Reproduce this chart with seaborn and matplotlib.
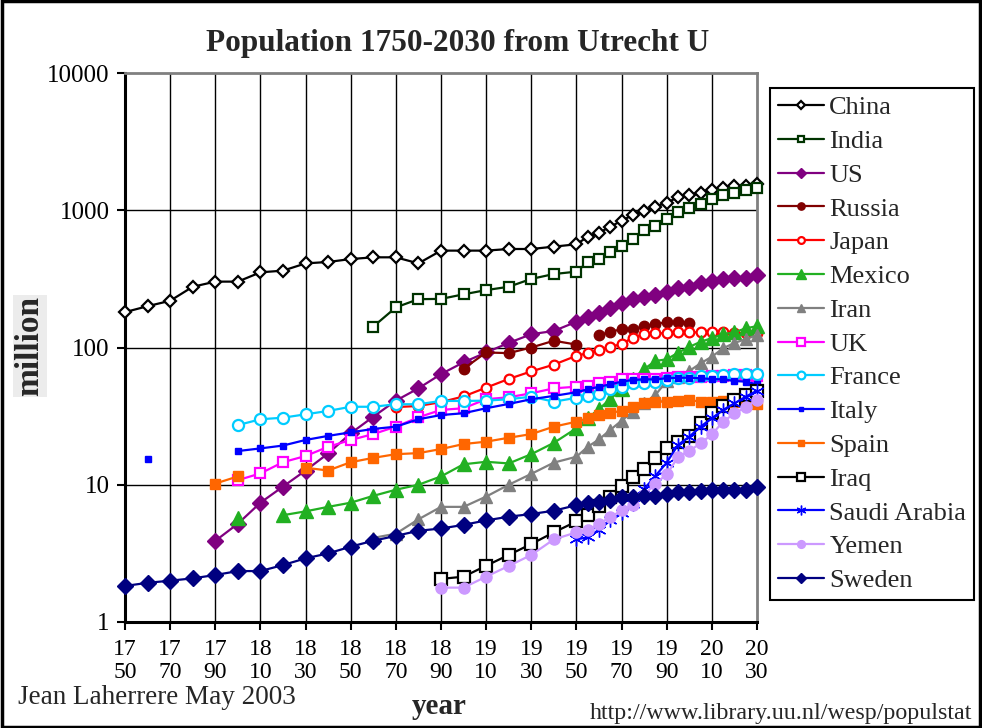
import matplotlib
matplotlib.use("Agg")
import matplotlib.pyplot as plt
import seaborn as sns
from matplotlib.patches import Rectangle

# year grid shared by all series (10-year steps, then 5-year steps)
years = [1750, 1760, 1770, 1780, 1790, 1800, 1810, 1820, 1830, 1840, 1850,
         1860, 1870, 1880, 1890, 1900, 1910, 1920, 1930, 1940, 1950,
         1955, 1960, 1965, 1970, 1975, 1980, 1985, 1990, 1995, 2000,
         2005, 2010, 2015, 2020, 2025, 2030]
N = None

# population in million
china = [181, 200, 219, 277, 302, 302, 353, 363, 410, 420, 441,
         454, 454, 410, 508, 508, 508, 522, 522, 543, 565,
         641, 686, 758, 839, 923, 993, 1062, 1135, 1243, 1290,
         1342, 1405, 1460, 1503, 1503, 1545]
india = [N, N, N, N, N, N, N, N, N, N, N,
         142, 196, 225, 226, 244, 262, 277, 316, 343, 357,
         418, 440, 494, 550, 617, 718, 772, 860, 967, 1044,
         1111, 1209, 1291, 1328, 1405, 1460]
us = [N, N, N, N, 3.9, 5.2, 7.4, 9.7, 12.7, 16.9, 23.7,
      31.3, 41, 50.4, 64, 78, 92, 108, 125, 132, 154,
      168, 179, 193, 210, 224, 234, 241, 252, 270, 277,
      297, 305, 314, 323, 323, 338]
russia = [N, N, N, N, N, N, N, N, N, N, N,
          N, N, N, N, 70, 92, 91, 100, 112, 105,
          N, 123, 130, 136, 136, 143, 148, 153, 153, 152,
          N, N, N, N, N, N]
japan = [N, N, N, N, N, N, N, N, N, N, N,
         N, 36.8, 37.5, 40, 44, 51, 59, 67, 75, 87,
         91, 96, 101, 106, 118, 125, 127, 127, 130, 129,
         129, 129, 129, 128, 127, 127]
mexico = [N, N, N, N, N, 5.7, N, 6.0, 6.4, 6.9, 7.4,
          8.3, 9.2, 10.0, 11.5, 14.1, 14.7, 14.3, 16.7, 20.2, 25.8,
          30.5, 35.6, 42.2, 49.6, 58.9, 69.7, 79.8, 82, 91.6, 101,
          110, 117, 125, 129, 138, 143]
iran = [N, N, N, N, N, N, N, N, N, N, N,
        4.1, 4.4, 5.6, 6.9, 6.9, 8.2, 10.0, 12.0, 14.5, 16.0,
        18.9, 21.4, 25.1, 29.3, 34.1, 39.2, 45.1, 57, 61.3, 67.4,
        76.7, 85.7, 98.7, 108, 115, 123]
uk = [N, N, N, N, N, 10.8, 12.1, 14.6, 16.2, 18.9, 21.2,
      23.4, 26.5, 31, 35.1, 36.1, 42, 43.4, 46.4, 50.4, 51.8,
      52.7, 54.8, 56.3, 58.6, 58.9, 58.9, 58.9, 60.2, 60.8, 60.8,
      61.3, 62, 62, 63, 63, 62]
france = [N, N, N, N, N, 27.2, 30, 30.8, 32.6, 34.5, 37,
          37, 38.6, 38.6, 40.8, 40.8, 41, 42, 43.8, 40.3, 43,
          44.4, 45.8, 49.6, 51.8, 54.8, 55.4, 56.4, 58, 60.2, 60.2,
          62, 62, 63, 64.1, 64.1, 64]
italy = [N, 15.3, N, N, N, 17.6, 18.4, 19.3, 21.2, 22.7, 24.1,
         25.5, 26.5, 30.0, 32.2, 33.2, 36.1, 38.8, 42.0, 44.4, 47.2,
         49.6, 51.8, 53.9, 56.4, 58.0, 58.6, 58.6, 59.7, 60.2, 60.2,
         59.7, 58.9, 58.6, 57.0, 56.4, 53.9]
spain = [N, N, N, N, 10.2, 11.5, N, N, 13.3, 12.7, 14.6,
         15.7, 16.7, 17, 18.2, 19.8, 20.6, 22, 23.4, 26.5, 28.8,
         30.5, 32.2, 33.2, 34.7, 37, 39.2, 40.3, 40.3, 40.8, 41.5,
         40.3, 40.3, 40.8, 40.3, 39.8, 38.8]
iraq = [N, N, N, N, N, N, N, N, N, N, N,
        N, N, N, 2.06, 2.14, 2.57, 3.08, 3.7, 4.5, 5.4,
        6.0, 7.0, 8.1, 9.8, 11.3, 13.0, 15.7, 18.4, 20.4, 22.7,
        28.3, 33.2, 37.5, 41.5, 45.1, 48.5]
saudi = [N, N, N, N, N, N, N, N, N, N, N,
         N, N, N, N, N, N, N, N, N, 4.0,
         4.14, 4.7, 5.5, 6.2, 7.2, 9.3, 11.6, 14.5, 19.5, 22.4,
         26.5, 30.5, 35.1, 39.2, 43.8, 48.5]
yemen = [N, N, N, N, N, N, N, N, N, N, N,
         N, N, N, 1.78, 1.78, 2.14, 2.56, 3.08, 4.0, 4.5,
         4.68, 5.2, 5.8, 6.5, 7.1, 8.4, 10.2, 11.9, 15.9, 17.7,
         20, 23.3, 28.8, 33.1, 36.7, 41.5]
sweden = [1.83, 1.93, 2.0, 2.08, 2.2, 2.35, 2.35, 2.6, 2.91, 3.16, 3.54,
          3.91, 4.24, 4.62, 4.8, 5.1, 5.5, 5.85, 6.12, 6.47, 7.1,
          7.4, 7.5, 7.8, 8.1, 8.2, 8.3, 8.3, 8.6, 8.8, 8.9,
          9.06, 9.16, 9.16, 9.16, 9.16, 9.7]

# name, values, color, marker, size, filled
series = [
    ("China", china, "black", "D", 6.5, False),
    ("India", india, "#003300", "s", 6.5, False),
    ("US", us, "#800080", "D", 8, True),
    ("Russia", russia, "#800000", "o", 7.5, True),
    ("Japan", japan, "#FF0000", "o", 7, False),
    ("Mexico", mexico, "#22B022", "^", 9.5, True),
    ("Iran", iran, "#808080", "^", 8.5, True),
    ("UK", uk, "#FF00FF", "s", 7.5, False),
    ("France", france, "#00CCFF", "o", 8, False),
    ("Italy", italy, "#0000FF", "s", 4.5, True),
    ("Spain", spain, "#FF6600", "s", 6.5, True),
    ("Iraq", iraq, "black", "s", 8, False),
    ("Saudi Arabia", saudi, "#0000FF", (6, 2, 0), 10, True),
    ("Yemen", yemen, "#CC99FF", "o", 8, True),
    ("Sweden", sweden, "#000080", "D", 8, True),
]


def segments(xs, ys):
    run_x, run_y = [], []
    for x, y in zip(xs, ys):
        if y is None:
            if run_x:
                yield run_x, run_y
            run_x, run_y = [], []
        else:
            run_x.append(x)
            run_y.append(y)
    if run_x:
        yield run_x, run_y


sns.set_theme(style="white")
plt.rcParams['font.family'] = ['Liberation Serif', 'DejaVu Serif']

fig = plt.figure(figsize=(9.82, 7.28), dpi=100)
ax = fig.add_axes([125 / 982, 1 - 622 / 728, 632 / 982, 549 / 728])

for i, (name, vals, col, mk, ms, filled) in enumerate(series):
    segs = list(segments(years, vals))
    longest = max(range(len(segs)), key=lambda k: len(segs[k][0]))
    for k, (sx, sy) in enumerate(segs):
        sns.lineplot(x=sx, y=sy, ax=ax, color=col, linewidth=1.6,
                     marker=mk, markersize=ms,
                     markerfacecolor=col if filled else "white",
                     markeredgecolor=col,
                     markeredgewidth=1.6 if not filled else 1.0,
                     label=name if k == longest else "_nolegend_",
                     clip_on=False, zorder=3 + i)

ax.set_yscale("log")
ax.set_ylim(1, 10000)
ax.set_xlim(1750, 2030)

xt = [1750, 1770, 1790, 1810, 1830, 1850, 1870, 1890, 1910, 1930,
      1950, 1970, 1990, 2010, 2030]
ax.set_xticks(xt)
ax.set_xticklabels([f"{y // 100}\n{y % 100:02d}" for y in xt],
                   linespacing=1.12)
ax.set_yticks([1, 10, 100, 1000, 10000])
ax.set_yticklabels(["1", "10", "100", "1000", "10000"])
ax.minorticks_off()
ax.tick_params(axis="both", direction="out", length=6, width=1.5,
               color="black", labelcolor="black")
ax.tick_params(axis="x", bottom=True, labelsize=17, pad=6)
ax.tick_params(axis="y", left=True, labelsize=18, pad=5)

for y in [10, 100, 1000]:
    ax.axhline(y, color="black", lw=1, zorder=1)
for x in xt[1:-1]:
    ax.axvline(x, color="black", lw=1, zorder=1)

for s in ["left", "bottom"]:
    ax.spines[s].set_color("black")
    ax.spines[s].set_linewidth(2.2)
for s in ["top", "right"]:
    ax.spines[s].set_color("#808080")
    ax.spines[s].set_linewidth(2)
ax.set_xlabel("")
ax.set_ylabel("")

leg = ax.legend(loc="upper left", bbox_to_anchor=(770 / 982, 1 - 88 / 728),
                bbox_transform=fig.transFigure, fontsize=19,
                frameon=True, fancybox=False, framealpha=1,
                edgecolor="black", handlelength=1.75, handletextpad=0.2,
                labelspacing=0.39, borderpad=0.3, borderaxespad=0,
                markerscale=0.7)
leg.get_frame().set_linewidth(1.5)

fig.text(458 / 982, 1 - 43 / 728, "Population 1750-2030 from Utrecht U",
         ha="center", va="center", fontsize=22.5, fontweight="bold")
fig.text(30 / 982, 1 - 346 / 728, "million", rotation=90, ha="center",
         va="center", fontsize=24, fontweight="bold",
         bbox=dict(facecolor="#ececec", edgecolor="none", pad=1))
fig.text(439 / 982, 1 - 706 / 728, "year", ha="center", va="center",
         fontsize=21, fontweight="bold")
fig.text(18 / 982, 1 - 698 / 728, "Jean Laherrere May 2003", ha="left",
         va="center", fontsize=19.5)
fig.text(972 / 982, 1 - 713 / 728, "http://www.library.uu.nl/wesp/populstat",
         ha="right", va="center", fontsize=17.3)

fig.patches.append(Rectangle((0.002, 0.002), 0.996, 0.996,
                             transform=fig.transFigure, fill=False,
                             edgecolor="black", linewidth=2.5))

fig.savefig("out.png", dpi=100)
